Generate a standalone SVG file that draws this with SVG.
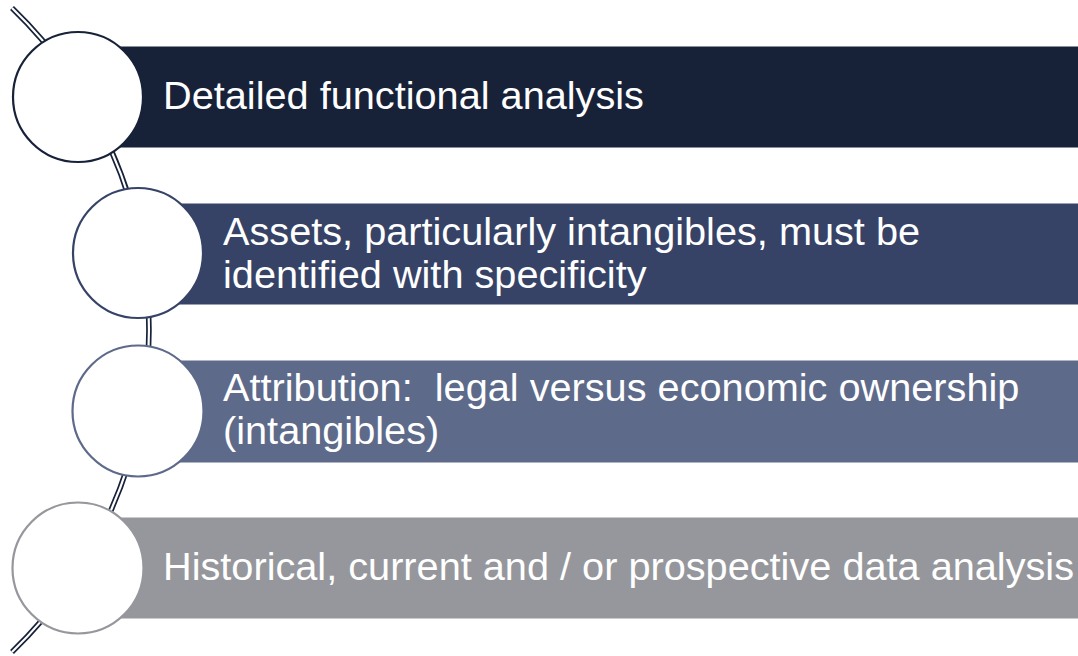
<svg xmlns="http://www.w3.org/2000/svg" width="1078" height="656" viewBox="0 0 1078 656">
  <style>
    .bar { stroke: #ffffff; stroke-width: 1; }
    .disc { fill: #ffffff; stroke-width: 2.2; }
    .label { fill: #ffffff; font-family: "Liberation Sans", Arial, sans-serif; font-size: 39.7px; }
    .rail-outer { fill: none; stroke: #172239; stroke-width: 5.6; }
    .rail-inner { fill: none; stroke: #ffffff; stroke-width: 2.2; }
  </style>
  <rect width="1078" height="656" fill="#ffffff"/>

  <!-- curved double rail linking the discs -->
  <g id="connectors">
    <path class="rail-outer" d="M 12 8 A 447 447 0 0 1 12 652"/>
    <path class="rail-inner" d="M 12 8 A 447 447 0 0 1 12 652"/>
  </g>

  <g id="step1">
    <rect class="bar" x="78" y="46" width="1010" height="102" fill="#172239"/>
    <circle class="disc" cx="78" cy="97" r="65" stroke="#172239"/>
    <text class="label" x="163" y="109">Detailed functional analysis</text>
  </g>

  <g id="step2">
    <rect class="bar" x="138" y="203" width="950" height="102" fill="#364367"/>
    <circle class="disc" cx="138" cy="253" r="65" stroke="#364367"/>
    <text class="label" x="223" y="245">Assets, particularly intangibles, must be</text>
    <text class="label" x="223" y="288">identified with specificity</text>
  </g>

  <g id="step3">
    <rect class="bar" x="138" y="360" width="950" height="103" fill="#5e6a8a"/>
    <circle class="disc" cx="138" cy="411" r="65.5" stroke="#5e6a8a"/>
    <text class="label" x="223" y="401" xml:space="preserve">Attribution:  legal versus economic ownership</text>
    <text class="label" x="223" y="444">(intangibles)</text>
  </g>

  <g id="step4">
    <rect class="bar" x="78" y="517" width="1010" height="102" fill="#96979c"/>
    <circle class="disc" cx="78" cy="568" r="65.5" stroke="#96979c"/>
    <text class="label" x="163" y="580">Historical, current and / or prospective data analysis</text>
  </g>
</svg>
